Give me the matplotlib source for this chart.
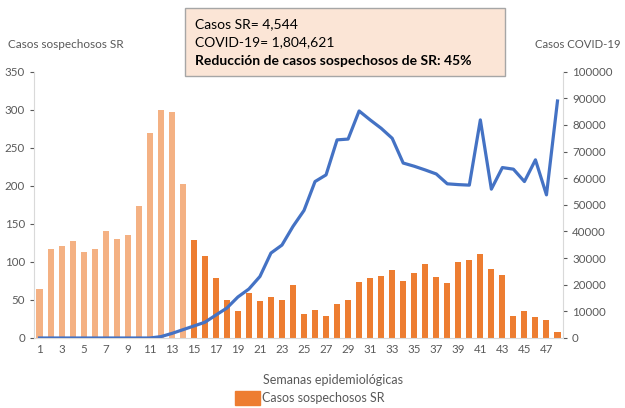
import matplotlib.pyplot as plt
from matplotlib.patches import Patch

plt.rcParams['font.family'] = ['Lato', 'DejaVu Sans']

weeks = list(range(1, 49))
sr_cases = [64, 117, 121, 128, 113, 117, 140, 130, 136, 174,
            270, 300, 297, 203, 129, 108, 79, 50, 36, 59,
            48, 54, 50, 70, 31, 37, 29, 45, 50, 73,
            79, 82, 89, 75, 85, 97, 80, 72, 100, 103,
            110, 91, 83, 29, 35, 28, 24, 8]
covid_cases = [0, 0, 0, 0, 0, 0, 0, 0, 0, 0,
               0, 500, 1700, 3100, 4500, 5900, 8600, 11250, 15400, 18400,
               23100, 31900, 34900, 41900, 47900, 58750, 61250, 74400, 74700, 85250,
               81900, 78750, 75000, 65700, 64500, 63100, 61600, 57900, 57600, 57400,
               81900, 55900, 64000, 63400, 58750, 66900, 53750, 89000]
tick_weeks = list(range(1, 48, 2))
text_lines = ["Casos SR= 4,544", "COVID-19= 1,804,621",
              "Reducción de casos sospechosos de SR: 45%"]

gray = "#595959"
fig = plt.figure(figsize=(6.25, 4.08), dpi=100)
ax = fig.add_axes([34 / 625, 1 - 338 / 408, (563 - 34) / 625, (338 - 71.7) / 408])

colors = ["#F4B183" if w <= 14 else "#ED7D31" for w in weeks]
ax.bar(weeks, sr_cases, width=0.55, color=colors, zorder=2)
ax.set_xlim(0.5, 48.5)
ax.set_ylim(0, 350)
ax.set_yticks(range(0, 351, 50))
ax.set_xticks(tick_weeks)
ax.tick_params(labelsize=8.3, colors=gray, length=3, width=0.8)
ax.tick_params(axis='x', length=0, pad=4)
for s in ["top", "right"]:
    ax.spines[s].set_visible(False)
for s in ["left", "bottom"]:
    ax.spines[s].set_color("#D9D9D9")

ax2 = ax.twinx()
ax2.plot(weeks, covid_cases, color="#4472C4", lw=2.3, zorder=3)
ax2.set_ylim(0, 100000)
ax2.set_yticks(range(0, 100001, 10000))
ax2.tick_params(labelsize=8.3, colors=gray, length=3, width=0.8)
for s in ["top", "left", "bottom"]:
    ax2.spines[s].set_visible(False)
ax2.spines["right"].set_color("#D9D9D9")

fig.text(8 / 625, 1 - 44 / 408, "Casos sospechosos SR", fontsize=8.5, color=gray, va="center")
fig.text(621 / 625, 1 - 44 / 408, "Casos COVID-19", fontsize=8.2, color=gray,
         ha="right", va="center")
fig.text(333 / 625, 1 - 380 / 408, "Semanas epidemiológicas", fontsize=9, color=gray,
         ha="center", va="center")

# info box
box = plt.Rectangle((185 / 625, 1 - 76 / 408), (505 - 185) / 625, (76 - 7.5) / 408,
                    transform=fig.transFigure, facecolor="#FBE5D6", edgecolor="#A6A6A6",
                    lw=1, zorder=5)
fig.add_artist(box)
for i, t in enumerate(text_lines):
    fig.text(195 / 625, 1 - (24 + i * 18.5) / 408, t, fontsize=10, color="black",
             va="center", fontweight="bold" if i == 2 else "normal", zorder=6)

fig.legend(handles=[Patch(color="#ED7D31", label="Casos sospechosos SR")],
           loc="upper left", bbox_to_anchor=(235 / 625, 1 - 391 / 408), frameon=False,
           fontsize=9, labelcolor=gray, handlelength=2.0, handleheight=1.4,
           handletextpad=0.15, borderpad=0, borderaxespad=0)

fig.savefig("out.png", dpi=100)
